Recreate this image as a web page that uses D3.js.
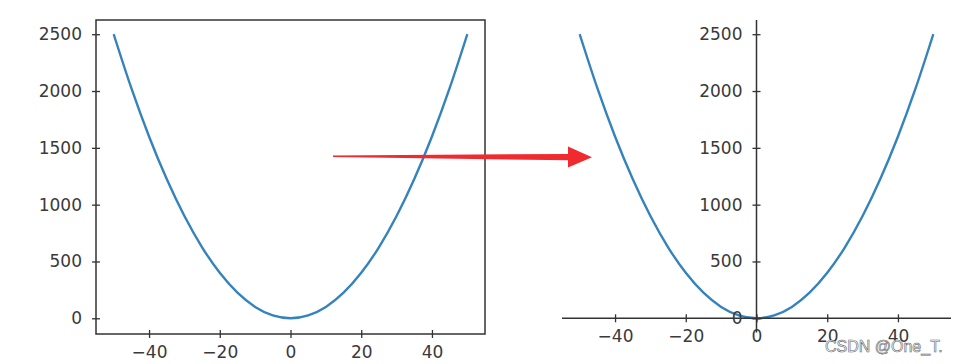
<!DOCTYPE html>
<html>
<head>
<meta charset="utf-8">
<script src="https://cdn.jsdelivr.net/npm/d3@7"></script>
<style>
  body { margin: 0; background: #fff; }
  svg text { font-family: "DejaVu Sans", sans-serif; }
  .tick text { font-size: 17px; }
</style>
</head>
<body>
<svg id="chart" width="971" height="364"></svg>
<script>
var xValues = [-50, -45, -40, -35, -30, -25, -20, -15, -10, -5, 0, 5, 10, 15, 20, 25, 30, 35, 40, 45, 50];
var yValues = [2500, 2025, 1600, 1225, 900, 625, 400, 225, 100, 25, 0, 25, 100, 225, 400, 625, 900, 1225, 1600, 2025, 2500];
var xTicks = [-40, -20, 0, 20, 40];
var yTicks = [0, 500, 1000, 1500, 2000, 2500];

var xDomain = [-55, 55];
var yDomain = [-125, 2625];

var lineColor = "#3583bc";
var spineColor = "#333";
var textColor = "#3a3a3a";

var points = xValues.map((v, i) => ({ x: v, y: yValues[i] }));

var svg = d3.select("#chart");

var yScale = d3.scaleLinear().domain(yDomain).range([332.5, 20]);

// style the ticks: inout ticks, grey text
function styleAxis(g, dir) {
  g.attr("font-size", 17).attr("font-family", "'DejaVu Sans', sans-serif");
  g.select(".domain").remove();
  g.selectAll(".tick line")
    .attr("stroke", spineColor)
    .attr("stroke-width", 1.3);
  if (dir === "left") g.selectAll(".tick line").attr("x1", 4);
  else g.selectAll(".tick line").attr("y1", -4);
  g.selectAll(".tick text")
    .attr("fill", textColor)
    .attr("font-size", 17);
}

var line = d3.line().curve(d3.curveMonotoneX);
var fmt = d3.format("d");

/*
Left panel: boxed axes
*/
var xLeft = d3.scaleLinear().domain(xDomain).range([96, 485]);

svg.append("path")
  .datum(points)
  .attr("fill", "none")
  .attr("stroke", lineColor)
  .attr("stroke-width", 2.4)
  .attr("d", line.x((d) => xLeft(d.x)).y((d) => yScale(d.y)));

svg.append("rect")
  .attr("x", 96)
  .attr("y", 20)
  .attr("width", 485 - 96)
  .attr("height", 332.5 - 20 + 1.5)
  .attr("fill", "none")
  .attr("stroke", spineColor)
  .attr("stroke-width", 1.5);

svg.append("g")
  .attr("transform", "translate(96,0)")
  .call(d3.axisLeft(yScale).tickValues(yTicks).tickFormat(fmt).tickSizeInner(4).tickSizeOuter(0).tickPadding(10))
  .call(styleAxis, "left");

svg.append("g")
  .attr("transform", "translate(0,334)")
  .call(d3.axisBottom(xLeft).tickValues(xTicks).tickFormat(fmt).tickSizeInner(4).tickSizeOuter(0).tickPadding(8))
  .call(styleAxis, "bottom");

/*
Right panel: spines moved to the origin
*/
var xRight = d3.scaleLinear().domain(xDomain).range([562, 951]);

svg.append("path")
  .datum(points)
  .attr("fill", "none")
  .attr("stroke", lineColor)
  .attr("stroke-width", 2.4)
  .attr("d", line.x((d) => xRight(d.x)).y((d) => yScale(d.y)));

// spines
svg.append("line")
  .attr("x1", xRight(0)).attr("x2", xRight(0))
  .attr("y1", yScale(yDomain[0])).attr("y2", yScale(yDomain[1]))
  .attr("stroke", spineColor).attr("stroke-width", 1.5);
svg.append("line")
  .attr("x1", xRight(xDomain[0])).attr("x2", xRight(xDomain[1]))
  .attr("y1", yScale(0)).attr("y2", yScale(0))
  .attr("stroke", spineColor).attr("stroke-width", 1.5);

svg.append("g")
  .attr("transform", "translate(" + xRight(0) + ",0)")
  .call(d3.axisLeft(yScale).tickValues(yTicks).tickFormat(fmt).tickSizeInner(4).tickSizeOuter(0).tickPadding(10))
  .call(styleAxis, "left");

svg.append("g")
  .attr("transform", "translate(0," + yScale(0) + ")")
  .call(d3.axisBottom(xRight).tickValues(xTicks).tickFormat(fmt).tickSizeInner(4).tickSizeOuter(0).tickPadding(8))
  .call(styleAxis, "bottom");

/*
Red arrow between the panels
*/
svg.append("path")
  .attr("fill", "#f02a2e")
  .attr("d", "M333,155.4 L568,154 L568,146.5 L592,157.3 L568,167.5 L568,160.2 L333,157 Z");

// watermark
svg.append("text")
  .attr("x", 825)
  .attr("y", 352)
  .attr("fill", "rgba(255,255,255,0.85)")
  .attr("stroke", "#666")
  .attr("stroke-width", 0.6)
  .style("font-family", "'Liberation Sans', sans-serif")
  .style("font-size", "16px")
  .text("CSDN @One_T.");
</script>
</body>
</html>
